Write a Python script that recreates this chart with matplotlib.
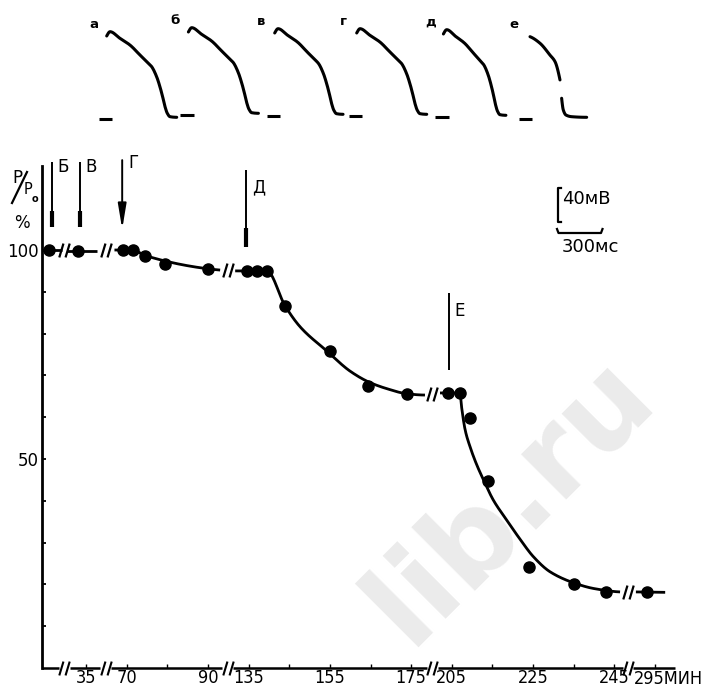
import numpy as np
import matplotlib
matplotlib.use("Agg")
import matplotlib.pyplot as plt
from matplotlib.path import Path

# ---------------- data ----------------
# measured points: time (min) and relative force P/P0 (%)
time_min = [0, 33, 69, 71.5, 74.5, 79.5, 90, 134.5, 137, 139.5, 144, 155,
            164.5, 174, 204, 207, 209.5, 214, 224, 235, 243, 293]
force_pct = [100, 99.8, 100, 100, 98.6, 96.7, 95.5, 95, 95, 95, 86.6, 75.8,
             67.5, 65.6, 65.8, 65.8, 59.8, 44.7, 24.2, 20.1, 18.2, 18.2]

# hand-drawn fitted curve, one list per piece of the broken time axis
fit_t = [[-1.8, 3],
         [30.3, 37.7],
         [67, 71.5, 74.5, 90, 93],
         [131.7, 139.5, 144, 147.7, 154.3, 160, 164.6, 169.1, 174, 178.4],
         [202.1, 207, 207.4, 208.3, 209.5, 211.1, 212.8, 215.2, 218.5, 221.8,
          225.1, 229.2, 234.9, 240, 246.4],
         [290.3, 297.5]]
fit_v = [[100, 100],
         [99.8, 99.8],
         [100, 100, 98.7, 95.5, 95.2],
         [95, 95, 86.6, 81.6, 75.8, 71.0, 68.4, 66.8, 65.6, 65.3],
         [65.8, 65.8, 62.5, 56.9, 52.9, 48.7, 45.0, 40.2, 35.4, 30.8, 26.6,
          23.0, 20.4, 19.0, 18.2],
         [18.2, 18.1]]

# broken time axis: reference minute of each piece and its tick slot
seg_ref_min = [0, 35, 70, 135, 205, 295]
seg_ref_slot = [-0.9, 0, 1, 4, 9, 14]
seg_low_min = [-10, 20, 50, 100, 190, 260]
xtick_labels = ['35', '70', '', '90', '135', '', '155', '', '175', '205',
                '', '225', '', '245', '']
last_tick_label = '295МИН'
ytick_values = [10, 20, 30, 40, 50, 60, 70, 80, 90, 100]
ytick_labels = ['', '', '', '', '50', '', '', '', '', '100']

# event markers (moments when the action potentials were recorded)
event_labels = ['Б', 'В', 'Г', 'Д', 'Е']
event_min = [0.6, 33.5, 68.9, 134.4, 204.3]
event_top = [121, 121, 121.5, 119.1, 89.7]
event_tip = [105.5, 105.5, 105.0, 100.7, 71.3]

# action potentials (ms, mV above rest)
ap_letters = ['а', 'б', 'в', 'г', 'д', 'е']
ap_template_t = [-22, 0, 66.7, 133, 200, 245, 278, 311, 333, 351, 367, 382, 400, 445]
ap_template_v = [92.7, 97.6, 90.0, 82.4, 71.0, 63.4, 57.7, 46.3, 34.9, 23.5,
                 12.1, 4.6, 0.7, 0]
ap_duration = [400, 400, 390, 400, 355]
ap_e_t = [0, 66.7, 133, 167, 200, None, 211, 222, 240, 278, 378]
ap_e_v = [91.9, 84.4, 71.0, 63.4, 42.6, None, 21.7, 8.4, 2.6, 0.7, 0]

# ---------------- helpers ----------------
def pchip(x, y, xn):
    x = np.asarray(x, float); y = np.asarray(y, float); xn = np.asarray(xn, float)
    n = len(x)
    h = np.diff(x); d = np.diff(y) / h
    m = np.zeros(n)
    if n == 2:
        m[:] = d[0]
    else:
        for k in range(1, n - 1):
            if d[k - 1] * d[k] > 0:
                w1 = 2 * h[k] + h[k - 1]; w2 = h[k] + 2 * h[k - 1]
                m[k] = (w1 + w2) / (w1 / d[k - 1] + w2 / d[k])
        def endm(h0, h1, d0, d1):
            mm = ((2 * h0 + h1) * d0 - h0 * d1) / (h0 + h1)
            if np.sign(mm) != np.sign(d0):
                mm = 0.0
            elif np.sign(d0) != np.sign(d1) and abs(mm) > abs(3 * d0):
                mm = 3 * d0
            return mm
        m[0] = endm(h[0], h[1], d[0], d[1])
        m[-1] = endm(h[-1], h[-2], d[-1], d[-2])
    idx = np.clip(np.searchsorted(x, xn) - 1, 0, n - 2)
    hh = h[idx]; s = (xn - x[idx]) / hh
    h00 = 2 * s**3 - 3 * s**2 + 1; h10 = s**3 - 2 * s**2 + s
    h01 = -2 * s**3 + 3 * s**2; h11 = s**3 - s**2
    return h00 * y[idx] + h10 * hh * m[idx] + h01 * y[idx + 1] + h11 * hh * m[idx + 1]


def t2pos(t):
    t = np.atleast_1d(np.asarray(t, float))
    i = np.searchsorted(seg_low_min, t, side='right') - 1
    return np.array(seg_ref_slot)[i] + (t - np.array(seg_ref_min)[i]) / 10.0


W, H = 705, 690
fig = plt.figure(figsize=(W / 100, H / 100), dpi=100)
fig.patch.set_facecolor('white')
def fx(px): return px / W
def fy(py): return 1 - py / H

REG = ['DejaVu Sans']
TICKFONT = dict(family=['DejaVu Sans'], fontstretch='condensed', fontsize=13)

# watermark
fig.text(fx(510), fy(500), 'lib.ru', rotation=45, fontsize=85, color='#ebebeb',
         ha='center', va='center', fontweight='bold', family=REG, zorder=-5)

# ---------------- main axes ----------------
y_top_px, y0_px = 166.4, 668
ax = fig.add_axes([fx(42), fy(y0_px), (W - 42) / W, (y0_px - y_top_px) / H])
ax.patch.set_alpha(0)
ax.set_xlim(-1.083, 15.23)
ax.set_ylim(0, 120)
for s in ['top', 'right', 'bottom']:
    ax.spines[s].set_visible(False)
ax.spines['left'].set_linewidth(2.0)

ax.set_xticks(range(len(xtick_labels)))
ax.set_xticklabels(xtick_labels, **TICKFONT)
ax.tick_params(axis='x', direction='in', length=3, width=1, pad=1)
ax.set_yticks(ytick_values)
ax.set_yticklabels(ytick_labels, family=REG, fontsize=12)
ax.tick_params(axis='y', direction='in', length=3, width=1.3, pad=2)
fig.text(fx(703), fy(669.5), last_tick_label, ha='right', va='top', **TICKFONT)

# fitted curve pieces
seg_ends = []
for tt, vv in zip(fit_t, fit_v):
    tn = np.linspace(tt[0], tt[-1], 300)
    vn = pchip(tt, vv, tn)
    ax.plot(t2pos(tn), vn, color='black', lw=2.0, solid_capstyle='butt', zorder=3)
    seg_ends.append((t2pos(tt[0])[0], t2pos(tt[-1])[0], vv[0], vv[-1]))

# break positions between pieces
breaks = []
for a, b in zip(seg_ends[:-1], seg_ends[1:]):
    breaks.append(((a[1] + b[0]) / 2, (a[3] + b[2]) / 2))

brk_marker = Path([(-0.75, -1), (-0.15, 1), (0.15, -1), (0.75, 1)],
                  [Path.MOVETO, Path.LINETO, Path.MOVETO, Path.LINETO])
bx = [b[0] for b in breaks]
by = [b[1] for b in breaks]
ax.plot(bx, by, ls='none', marker=brk_marker, ms=10, mew=1.6, mec='black',
        mfc='none', zorder=4, clip_on=False)

# x axis drawn in pieces with gaps
x_left, x_right, gap = -1.083, 14.49, 0.13
edges = [x_left] + [v for b in bx for v in (b - gap, b + gap)] + [x_right]
for i in range(0, len(edges), 2):
    ax.plot([edges[i], edges[i + 1]], [0, 0], color='black', lw=1.8,
            solid_capstyle='butt', clip_on=False, zorder=3)
ax.plot(bx, [0] * len(bx), ls='none', marker=brk_marker, ms=10, mew=1.5,
        mec='black', mfc='none', clip_on=False, zorder=4)

# data points
ax.plot(t2pos(time_min), force_pct, ls='none', marker='o', ms=8,
        color='black', zorder=5)

# event markers
label_drop_pt = [3.6, 3.6, 2.2, 12.2, 13.0]
thick_top = [109.3, 109.3, None, 105.3, None]
for lab, tm, top, tip, dy, th in zip(event_labels, event_min, event_top,
                                     event_tip, label_drop_pt, thick_top):
    x = t2pos(tm)[0]
    if lab == 'Г':
        ax.annotate('', xy=(x, tip), xytext=(x, top), annotation_clip=False,
                    arrowprops=dict(arrowstyle='-|>,head_length=1.5,head_width=0.25',
                                    lw=1.4, color='black', shrinkA=0, shrinkB=0))
    else:
        ax.plot([x, x], [top, tip], color='black', lw=1.4, clip_on=False,
                solid_capstyle='butt')
    if th is not None:
        ax.plot([x, x], [th, tip], color='black', lw=3.0, clip_on=False,
                solid_capstyle='butt')
    ax.annotate(lab, xy=(x, top), xytext=(4.2, -dy), textcoords='offset points',
                ha='left', va='center', fontsize=12, family=REG,
                annotation_clip=False)

# y-axis label P/P0, %
fig.text(fx(12), fy(178), 'P', fontsize=12, family=REG, ha='left', va='center')
fig.add_artist(plt.Line2D([fx(12), fx(27)], [fy(203), fy(172)], color='black', lw=1.6))
fig.text(fx(24), fy(189), 'P', fontsize=10.5, family=REG, ha='left', va='center')
fig.text(fx(31.5), fy(199), 'o', fontsize=7, family=REG, ha='left', va='center',
         fontweight='bold')
fig.text(fx(22), fy(223), '%', fontsize=12, family=REG, ha='center', va='center')

# scale bars
fig.add_artist(plt.Line2D([fx(561), fx(557.5), fx(557.5), fx(561)],
                          [fy(188), fy(188), fy(222), fy(222)], color='black', lw=1.6))
fig.text(fx(562), fy(199), '40мВ', fontsize=13, family=REG, ha='left', va='center')
fig.add_artist(plt.Line2D([fx(557), fx(558.5), fx(601), fx(602.5)],
                          [fy(229), fy(233), fy(233), fy(229)], color='black', lw=1.6))
fig.text(fx(590), fy(247), '300мс', fontsize=13, family=REG, ha='center', va='center')

# ---------------- action potentials ----------------
ap_start_px = [110, 191.7, 278, 360, 446.7, 530]
ap_shift_px = [0, -4, -3, -3, -2, 0]
ms_per_px, mv_per_px = 6.67, 1.14
ax_w_px, ax_h_px, ax_lead_px, base_px = 100, 115, 30, 117.3
for i, letter in enumerate(ap_letters):
    left = ap_start_px[i] - ax_lead_px
    bottom_py = base_px + 7.7 + ap_shift_px[i]
    a2 = fig.add_axes([fx(left), fy(bottom_py), ax_w_px / W, ax_h_px / H])
    a2.set_xlim(-ax_lead_px * ms_per_px, (ax_w_px - ax_lead_px) * ms_per_px)
    a2.set_ylim(-7.7 * mv_per_px, (ax_h_px - 7.7) * mv_per_px)
    a2.axis('off')
    a2.patch.set_alpha(0)
    if i < 5:
        tt = np.array(ap_template_t, float)
        tt = np.where(tt > 0, tt * ap_duration[i] / 400.0, tt)
        tn = np.linspace(tt[0], tt[-1], 200)
        a2.plot(tn, pchip(tt, ap_template_v, tn), color='black', lw=2.2,
                solid_capstyle='round')
    else:
        parts, cur_t, cur_v = [], [], []
        for t, v in zip(ap_e_t, ap_e_v):
            if t is None:
                parts.append((cur_t, cur_v)); cur_t, cur_v = [], []
            else:
                cur_t.append(t); cur_v.append(v)
        parts.append((cur_t, cur_v))
        for pt, pv in parts:
            tn = np.linspace(pt[0], pt[-1], 100)
            a2.plot(tn, pchip(pt, pv, tn), color='black', lw=2.2,
                    solid_capstyle='round')
    a2.plot([-75, 15], [-2.3, -2.3], color='black', lw=2.2, solid_capstyle='butt')
    a2.text(-110, 106, letter, fontsize=9.5, fontweight='bold', family=REG,
            ha='center', va='center')

fig.savefig('out.png', dpi=100, facecolor='white')
